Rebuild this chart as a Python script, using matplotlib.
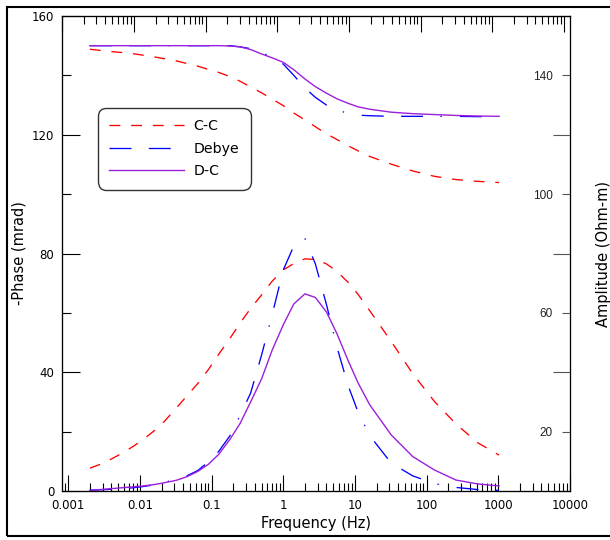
import matplotlib
matplotlib.use("Agg")
import matplotlib.pyplot as plt
from matplotlib.lines import Line2D
from matplotlib.patches import Rectangle
from matplotlib.ticker import LogLocator, NullFormatter

plt.rcParams["font.family"] = ["DejaVu Sans"]
plt.rcParams["lines.scale_dashes"] = False

# frequencies (Hz) of the modelled points
freq = [0.002, 0.0028, 0.004, 0.0056, 0.008, 0.011, 0.016, 0.022, 0.032, 0.045,
        0.064, 0.09, 0.125, 0.18, 0.25, 0.35, 0.5, 0.7, 1, 1.4,
        2, 2.8, 4, 5.6, 8, 11, 16, 32, 64, 128,
        256, 512, 1024]

# -phase (mrad)
phase_cc = [7.7, 9.0, 10.8, 12.7, 15.0, 17.3, 20.4, 23.5, 27.9, 32.0,
            36.2, 40.9, 46.0, 51.4, 56.6, 61.5, 66.1, 70.7, 74.5, 76.6,
            78.2, 78.0, 76.5, 74.0, 70.3, 66.3, 60.8, 50.4, 39.5, 30.2,
            22.6, 16.3, 12.1]
phase_debye = [0.3, 0.4, 0.6, 0.8, 1.1, 1.5, 2.1, 2.9, 4.0, 5.1,
               6.9, 9.8, 13.3, 18.6, 25.5, 33.0, 46.0, 59.5, 74.5, 82.5,
               85.1, 76.5, 62.8, 48.5, 35.6, 26.7, 18.7, 9.4, 5.1, 2.5,
               1.2, 0.5, 0.2]
phase_dc = [0.2, 0.5, 0.8, 1.1, 1.4, 1.7, 2.2, 2.8, 3.6, 4.8,
            6.6, 9.0, 12.3, 17.4, 22.8, 30.0, 37.9, 47.5, 56.0, 63.0,
            66.4, 65.2, 60.3, 53.0, 44.0, 36.5, 29.1, 18.9, 11.6, 7.1,
            3.7, 2.4, 1.7]

# amplitude (Ohm-m)
amp_cc = [148.8, 148.4, 148.0, 147.7, 147.3, 146.8, 146.2, 145.6, 144.9, 144.0,
          143.1, 142.0, 141.0, 139.6, 138.0, 136.1, 134.1, 132.0, 129.8, 127.3,
          125.0, 122.7, 120.3, 118.4, 116.3, 114.6, 112.7, 110.1, 107.8, 106.0,
          104.9, 104.3, 103.9]
amp_debye = [150.0, 150.0, 150.0, 150.0, 150.0, 150.0, 150.0, 150.0, 150.0, 150.0,
             150.0, 150.0, 150.0, 150.0, 149.6, 149.0, 147.7, 146.1, 143.8, 140.0,
             135.8, 132.6, 130.0, 128.2, 127.3, 126.6, 126.4, 126.2, 126.2, 126.2,
             126.2, 126.1, 126.1]
amp_dc = [150.0, 150.0, 150.0, 150.0, 150.0, 150.0, 150.0, 150.0, 150.0, 150.0,
          150.0, 150.0, 150.0, 149.9, 149.6, 148.7, 147.2, 145.9, 144.4, 141.9,
          138.8, 136.2, 134.0, 132.1, 130.6, 129.4, 128.6, 127.6, 127.1, 126.8,
          126.5, 126.3, 126.2]

x_ticks = [0.001, 0.01, 0.1, 1, 10, 100, 1000, 10000]
x_labels = ["0.001", "0.01", "0.1", "1", "10", "100", "1000", "10000"]
phase_ticks = [0, 40, 80, 120, 160]
amp_ticks = [20, 60, 100, 140]

RED = "#FF0000"
BLUE = "#0000FF"
PURPLE = "#9A20DC"
CC_DASH = (7.8, 7.8)
DEBYE_DASH = (15.8, 12.5, 15.8, 12.5, 1.0, 13.0)

fig = plt.figure(figsize=(6.1, 5.4), dpi=100)
ax = fig.add_axes([0.1021, 0.0907, 0.8323, 0.8797])
ax.set_xscale("log")
ax.set_xlim(0.000824, 10000)
ax.set_ylim(0, 160)

ax_amp = ax.twinx()
ax_amp.set_ylim(0, 160)

# top axis is offset a little from the bottom one in the original
ax_top = ax.twiny()
ax_top.set_xscale("log")
ax_top.set_xlim(0.001, 12125)

# phase curves
ax.plot(freq, phase_cc, color=RED, lw=0.95, dashes=CC_DASH)
ax.plot(freq, phase_debye, color=BLUE, lw=0.95, dashes=DEBYE_DASH)
ax.plot(freq, phase_dc, color=PURPLE, lw=1.0)

# amplitude curves
ax_amp.plot(freq, amp_cc, color=RED, lw=0.95, dashes=CC_DASH)
ax_amp.plot(freq, amp_debye, color=BLUE, lw=0.95, dashes=DEBYE_DASH)
ax_amp.plot(freq, amp_dc, color=PURPLE, lw=1.0)

# bottom x axis
ax.set_xticks(x_ticks, x_labels)
ax.xaxis.set_minor_locator(LogLocator(base=10, subs=range(2, 10), numticks=30))
ax.xaxis.set_minor_formatter(NullFormatter())
ax.tick_params(axis="x", which="major", direction="in", length=11.5, width=0.8,
               labelsize=8.5, pad=6)
ax.tick_params(axis="x", which="minor", direction="in", length=5.8, width=0.8)

# left y axis
ax.set_yticks(phase_ticks)
ax.set_yticks(amp_ticks, minor=True)
ax.tick_params(axis="y", which="major", direction="in", length=13, width=0.8,
               labelsize=8.5, pad=5.8)
ax.tick_params(axis="y", which="minor", direction="in", length=6.5, width=0.8)

# right y axis, labels sit inside the frame
ax_amp.tick_params(axis="y", which="major", direction="in", length=12.2, width=0.8,
                   color="#555555")
ax_amp.tick_params(axis="y", which="minor", direction="in", length=5.8, width=0.8,
                   color="#555555", labelsize=8.5, pad=-12.2, labelcolor="#222222")
ax_amp.set_yticks(phase_ticks, [])
ax_amp.set_yticks(amp_ticks, [str(v) for v in amp_ticks], minor=True, ha="right",
                  fontfamily="Liberation Sans")

# top x axis
ax_top.xaxis.set_major_locator(LogLocator(base=10, numticks=30))
ax_top.xaxis.set_minor_locator(LogLocator(base=10, subs=range(2, 10), numticks=30))
ax_top.xaxis.set_major_formatter(NullFormatter())
ax_top.xaxis.set_minor_formatter(NullFormatter())
ax_top.tick_params(axis="x", which="major", direction="in", length=11.5, width=0.8)
ax_top.tick_params(axis="x", which="minor", direction="in", length=5.8, width=0.8)

for a in (ax, ax_amp, ax_top):
    for s in a.spines.values():
        s.set_linewidth(0.8)
ax_amp.spines["right"].set_color("#555555")

ax.set_xlabel("Frequency (Hz)", fontsize=10.5)
ax.xaxis.set_label_coords(0.5, -0.053)
ax.set_ylabel("-Phase (mrad)", fontsize=10.5)
ax.yaxis.set_label_coords(-0.07, 0.5)
ax_amp.set_ylabel("Amplitude (Ohm-m)", fontsize=10.5)
ax_amp.yaxis.set_label_coords(1.051, 0.5)

handles = [
    Line2D([], [], color=RED, lw=0.95, dashes=CC_DASH),
    Line2D([], [], color=BLUE, lw=0.95, dashes=DEBYE_DASH),
    Line2D([], [], color=PURPLE, lw=1.0),
]
leg = ax_top.legend(handles, ["C-C", "Debye", "D-C"], loc="upper left",
                    bbox_to_anchor=(0.0703, 0.8063), borderaxespad=0, fontsize=10.2,
                    handlelength=5.3, handletextpad=0.65, borderpad=0.8,
                    labelspacing=0.6, fancybox=True, framealpha=1, edgecolor="#333333")
leg.get_frame().set_linewidth(1.0)
leg.get_frame().set_boxstyle("round,pad=0,rounding_size=0.6")

# frame around the whole picture
fig.add_artist(Rectangle((0.0115, 0.0083), 1.2, 0.9787, transform=fig.transFigure,
                         fill=False, lw=1.5, ec="black"))

fig.savefig("out.png", dpi=100)
